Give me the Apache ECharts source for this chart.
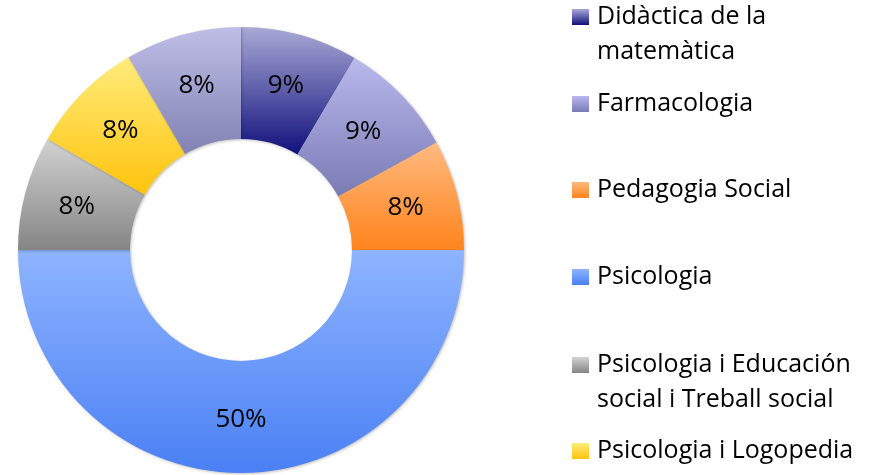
<!DOCTYPE html>
<html>
<head>
<meta charset="utf-8">
<script src="https://cdn.jsdelivr.net/npm/echarts@6/dist/echarts.min.js"></script>
<style>
  html, body { margin: 0; padding: 0; background: #fff; }
  #chart { width: 876px; height: 475px; }
</style>
</head>
<body>
<div id="chart"></div>
<script>
// data (share of the total, in %)
var categories = [
  'Didàctica de la matemàtica',
  'Farmacologia',
  'Pedagogia Social',
  'Psicologia',
  'Psicologia i Educación social i Treball social',
  'Psicologia i Logopedia',
  'Altres'
];
var values = [8.5, 8.5, 8, 50, 8.3, 8.3, 8.4];

// legend text as it is wrapped in the picture (last slice has no visible entry)
var legendLabels = [
  'Didàctica de la\nmatemàtica',
  'Farmacologia',
  'Pedagogia Social',
  'Psicologia',
  'Psicologia i Educación\nsocial i Treball social',
  'Psicologia i Logopedia'
];

// top / bottom colour of each slice gradient
var gradients = [
  ['#a9a9d6', '#10107c'],
  ['#b9b9ee', '#7b7bb4'],
  ['#ffba80', '#ff841c'],
  ['#8eb4ff', '#4a80f4'],
  ['#d2d2d2', '#858585'],
  ['#ffec7c', '#ffc30c'],
  ['#bebee6', '#8282b4']
];

var font = 'Open Sans';
var lineH = 35;
var legendCenters = [17, 104, 190, 277, 365, 451];

var chartDom = document.getElementById('chart');
var myChart = echarts.init(chartDom);
var option;

var legends = legendLabels.map(function (lbl, i) {
  var twoLines = lbl.indexOf('\n') >= 0;
  // a blank first line keeps the first text line level with the marker
  var txt = twoLines ? ' \n' + lbl : lbl;
  var half = twoLines ? lineH * 1.5 : lineH / 2;
  return {
    orient: 'vertical',
    left: 572,
    top: legendCenters[i] - half,
    padding: 0,
    itemWidth: 17,
    itemHeight: 16,
    icon: 'rect',
    selectedMode: false,
    data: [categories[i]],
    formatter: function () { return txt; },
    textStyle: {
      fontFamily: font,
      fontSize: 25,
      color: '#000',
      lineHeight: lineH,
      padding: [0, 0, 0, 3]
    }
  };
});

option = {
  animation: false,
  backgroundColor: '#fff',
  legend: legends,
  series: [
    {
      name: 'Estudis',
      type: 'pie',
      center: [241, 250],
      radius: [111, 223],
      startAngle: 90,
      clockwise: true,
      percentPrecision: 0,
      label: {
        show: true,
        position: 'inside',
        formatter: '{d}%',
        fontFamily: font,
        fontSize: 26,
        color: '#000'
      },
      labelLine: { show: false },
      emphasis: { scale: false },
      itemStyle: {
        borderWidth: 0,
        shadowBlur: 3,
        shadowOffsetX: 1,
        shadowOffsetY: 1,
        shadowColor: 'rgba(0,0,0,0.25)'
      },
      data: categories.map(function (name, i) {
        return {
          name: name,
          value: values[i],
          itemStyle: {
            color: new echarts.graphic.LinearGradient(0, 0, 0, 1, [
              { offset: 0, color: gradients[i][0] },
              { offset: 1, color: gradients[i][1] }
            ])
          }
        };
      })
    }
  ]
};

option && myChart.setOption(option);
</script>
</body>
</html>
